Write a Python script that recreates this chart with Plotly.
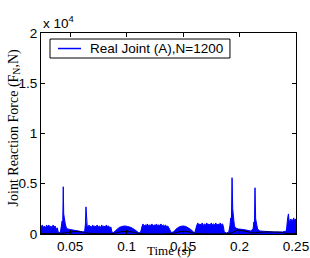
import plotly.graph_objects as go

# Measured signal (upper envelope, in units of 1e4 N)
t_real = [0.0243, 0.0255, 0.0262, 0.0272, 0.0285, 0.0292, 0.0302, 0.0312, 0.0322, 0.0330,
          0.0342, 0.0350, 0.0360, 0.0368, 0.0378, 0.0388, 0.0395, 0.0405, 0.0415, 0.0425,
          0.0430, 0.0435, 0.0440, 0.0444, 0.0450, 0.0458, 0.0468, 0.0480, 0.0500, 0.0530,
          0.0560, 0.0590, 0.0615, 0.0630, 0.0636, 0.0641, 0.0646, 0.0652,
          0.0660, 0.0668, 0.0676, 0.0684, 0.0692, 0.0700, 0.0710, 0.0720, 0.0730, 0.0740,
          0.0750, 0.0760, 0.0770, 0.0780, 0.0790, 0.0800, 0.0812, 0.0822, 0.0832, 0.0842,
          0.0852, 0.0862, 0.0870, 0.0885, 0.0900,
          0.0915, 0.0935, 0.0960, 0.0985, 0.1010, 0.1040, 0.1070, 0.1095, 0.1110, 0.1125,
          0.1135, 0.1145, 0.1155, 0.1165, 0.1175, 0.1185, 0.1195, 0.1205, 0.1215, 0.1225,
          0.1235, 0.1245, 0.1255, 0.1265, 0.1275, 0.1285, 0.1295, 0.1305, 0.1315, 0.1325,
          0.1335, 0.1345, 0.1355, 0.1365, 0.1375, 0.1385, 0.1395, 0.1415,
          0.1430, 0.1450, 0.1475, 0.1500, 0.1525, 0.1550, 0.1575, 0.1590, 0.1605,
          0.1620, 0.1630, 0.1640, 0.1650, 0.1660, 0.1670, 0.1680, 0.1690, 0.1700, 0.1710,
          0.1720, 0.1730, 0.1740, 0.1750, 0.1760, 0.1770, 0.1780, 0.1790, 0.1800, 0.1810,
          0.1820, 0.1830, 0.1840, 0.1850, 0.1858, 0.1865, 0.1885, 0.1905,
          0.1915, 0.1922, 0.1928, 0.1934, 0.1940, 0.1948, 0.1955, 0.1965, 0.1990, 0.2030,
          0.2070, 0.2100, 0.2120, 0.2127, 0.2132, 0.2137, 0.2143, 0.2150, 0.2160, 0.2180,
          0.2220, 0.2300, 0.2380, 0.2415, 0.2425, 0.2433, 0.2440, 0.2448, 0.2456, 0.2464,
          0.2472, 0.2480, 0.2488, 0.2496, 0.2500]
f_real = [0.07, 0.09, 0.06, 0.08, 0.06, 0.09, 0.07, 0.09, 0.06, 0.08,
          0.06, 0.09, 0.07, 0.08, 0.05, 0.06, 0.02, 0.015, 0.02, 0.10,
          0.13, 0.08, 0.47, 0.20, 0.15, 0.10, 0.06, 0.05, 0.045, 0.04,
          0.035, 0.03, 0.02, 0.03, 0.10, 0.27, 0.12, 0.08,
          0.07, 0.09, 0.07, 0.08, 0.06, 0.09, 0.07, 0.08, 0.07, 0.09,
          0.07, 0.08, 0.06, 0.09, 0.07, 0.08, 0.07, 0.09, 0.07, 0.08,
          0.06, 0.07, 0.02, 0.015, 0.03,
          0.045, 0.065, 0.075, 0.08, 0.075, 0.065, 0.045, 0.025, 0.01, 0.02,
          0.08, 0.10, 0.08, 0.09, 0.085, 0.10, 0.08, 0.09, 0.085, 0.10,
          0.08, 0.09, 0.085, 0.10, 0.08, 0.09, 0.085, 0.10, 0.08, 0.09,
          0.08, 0.09, 0.07, 0.08, 0.06, 0.04, 0.015, 0.02,
          0.04, 0.06, 0.075, 0.08, 0.075, 0.06, 0.04, 0.02, 0.015,
          0.08, 0.11, 0.09, 0.10, 0.09, 0.11, 0.085, 0.10, 0.09, 0.11,
          0.09, 0.10, 0.085, 0.11, 0.09, 0.10, 0.09, 0.11, 0.085, 0.10,
          0.09, 0.11, 0.09, 0.10, 0.07, 0.02, 0.01, 0.02,
          0.08, 0.16, 0.10, 0.56, 0.25, 0.15, 0.08, 0.06, 0.05, 0.045,
          0.04, 0.03, 0.05, 0.12, 0.09, 0.46, 0.15, 0.10, 0.05, 0.03,
          0.025, 0.02, 0.02, 0.03, 0.15, 0.20, 0.12, 0.13, 0.15, 0.12,
          0.14, 0.16, 0.13, 0.15, 0.14]

# Model / reference curve (black), units of 1e4 N
t_model = [0.0243, 0.038, 0.045, 0.050, 0.055, 0.060, 0.064, 0.088, 0.092, 0.097,
           0.102, 0.107, 0.111, 0.140, 0.144, 0.149, 0.154, 0.159, 0.162, 0.190,
           0.195, 0.198, 0.202, 0.208, 0.212, 0.216, 0.222, 0.230, 0.238, 0.242, 0.250]
f_model = [0.005, 0.005, 0.01, 0.02, 0.025, 0.02, 0.01, 0.005, 0.015, 0.025,
           0.025, 0.015, 0.005, 0.005, 0.015, 0.025, 0.025, 0.01, 0.005, 0.005,
           0.02, 0.04, 0.035, 0.02, 0.01, 0.015, 0.02, 0.02, 0.015, 0.005, 0.005]

x_ticks = [0.05, 0.1, 0.15, 0.2, 0.25]
x_ticktext = ["0.05", "0.1", "0.15", "0.2", "0.25"]
y_ticks = [0, 0.5, 1, 1.5, 2]
y_ticktext = ["0", "0.5", "1", "1.5", "2"]
legend_label = "Real Joint (A),N=1200"

BLUE = "#0000FF"
SANS = "Liberation Sans, Arial"
SERIF = "Liberation Serif, Times New Roman"

fig = go.Figure()
fig.add_trace(go.Scatter(
    x=t_real, y=f_real, mode="none", showlegend=False,
    fill="tozeroy", fillcolor=BLUE, hoverinfo="skip",
))
fig.add_trace(go.Scatter(
    x=t_real, y=f_real, mode="lines", name=legend_label, showlegend=False,
    line=dict(color=BLUE, width=1),
))
fig.add_trace(go.Scatter(
    x=t_model, y=f_model, mode="lines", showlegend=False,
    line=dict(color="black", width=1, shape="spline"),
))

axis_common = dict(showline=True, linecolor="black", linewidth=1, mirror="ticks",
                   ticks="inside", ticklen=4, tickcolor="black", showgrid=False,
                   zeroline=False, automargin=False,
                   tickfont=dict(family=SANS, size=13.5, color="black"))

# Legend box drawn in paper coordinates
lx0, lx1, ly0, ly1 = 0.0353, 0.741, 0.8756, 0.970
ly = (ly0 + ly1) / 2

fig.update_layout(
    template="none",
    width=310, height=258,
    margin=dict(l=41, r=14, t=33, b=24, autoexpand=False),
    paper_bgcolor="white", plot_bgcolor="white",
    xaxis=dict(range=[0.0243, 0.25], tickvals=x_ticks, ticktext=x_ticktext, **axis_common),
    yaxis=dict(range=[0, 2], tickvals=y_ticks, ticktext=y_ticktext, **axis_common),
    showlegend=False,
    shapes=[
        dict(type="rect", xref="paper", yref="paper", x0=lx0, x1=lx1, y0=ly0, y1=ly1,
             line=dict(color="black", width=1), fillcolor="white", layer="above"),
        dict(type="line", xref="paper", yref="paper", x0=0.0667, x1=0.157, y0=ly, y1=ly,
             line=dict(color=BLUE, width=1.5), layer="above"),
    ],
    annotations=[
        dict(text=legend_label, xref="paper", yref="paper", x=0.184, y=ly,
             xanchor="left", yanchor="middle", showarrow=False,
             font=dict(family=SANS, size=13.5, color="black")),
        dict(text="x 10<sup>4</sup>", xref="paper", yref="paper", x=0.0, y=1.0,
             xanchor="left", yanchor="bottom", showarrow=False,
             font=dict(family=SANS, size=13.5, color="black")),
        dict(text="Time (s)", xref="paper", yref="paper", x=0.5, y=-0.084,
             xanchor="center", yanchor="middle", showarrow=False,
             font=dict(family=SERIF, size=13, color="black")),
        dict(text="Joint Reaction Force (F<sub>N</sub>,N)", xref="paper", yref="paper",
             x=-0.106, y=0.53, xanchor="center", yanchor="middle", textangle=-90,
             showarrow=False,
             font=dict(family=SERIF, size=14, color="black")),
    ],
)

fig.write_html("out.html", config={"displayModeBar": False},
               post_script="document.body.style.margin='0px';document.body.style.overflow='hidden';")
